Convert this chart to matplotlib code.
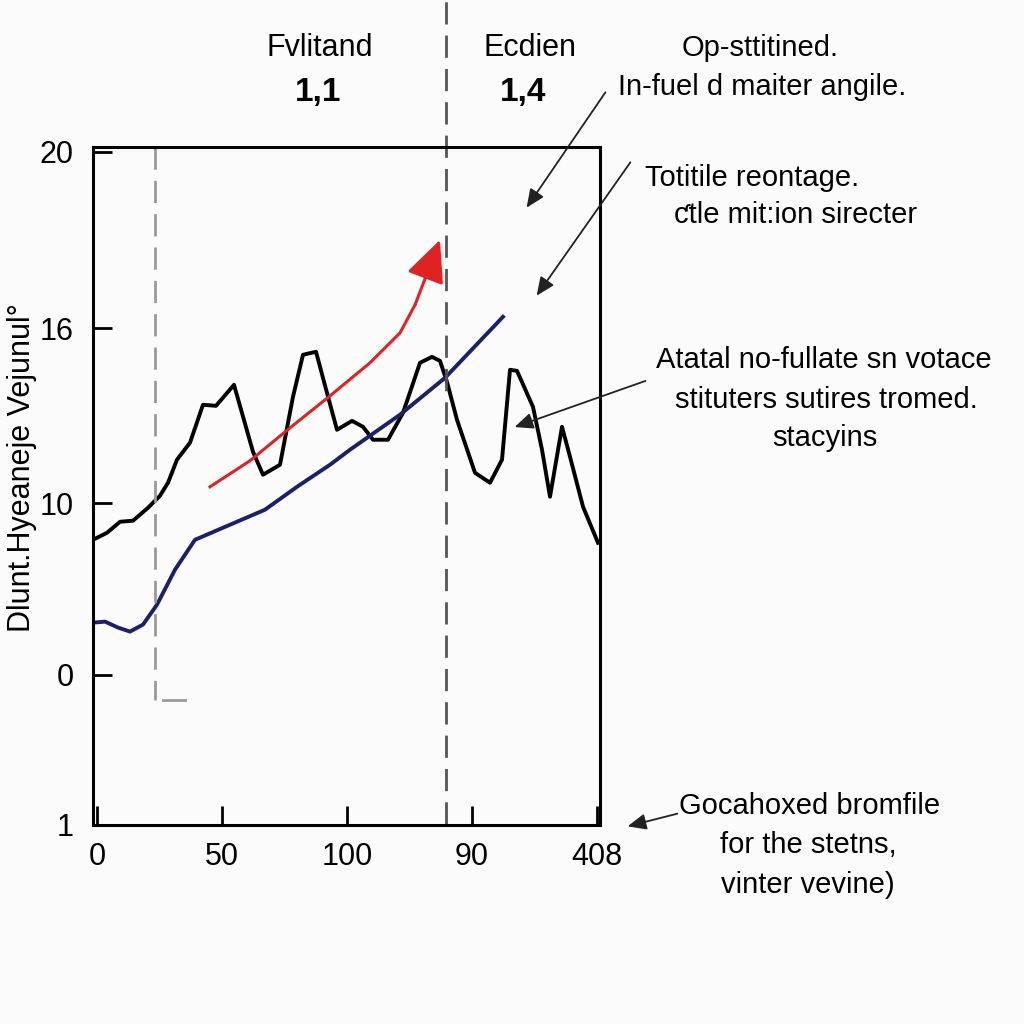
import matplotlib
matplotlib.use('Agg')
import matplotlib.pyplot as plt

plt.rcParams['font.family'] = ['Liberation Sans', 'DejaVu Sans']

# black series
black_x = [-1.6, 4.0, 9.2, 14.4, 20.4, 25.2, 28.4, 32.0, 37.2, 42.4, 47.6, 54.8, 62.4, 66.4,
           73.2, 78.4, 82.4, 87.6, 92.0, 96.0, 102.0, 106.4, 110.4, 116.4, 122.4, 129.2, 134.0,
           137.2, 140.0, 144.0, 151.2, 157.2, 162.0, 165.2, 168.0, 174.4, 178.0, 181.2, 186.0,
           189.2, 194.4, 200.4]
black_y = [7.71, 8.11, 8.74, 8.80, 9.54, 10.23, 10.97, 12.29, 13.26, 15.43, 15.37, 16.57, 12.74,
           11.43, 12.0, 15.89, 18.29, 18.46, 16.11, 14.0, 14.51, 14.17, 13.43, 13.43, 14.97, 17.83,
           18.17, 17.94, 16.74, 14.57, 11.54, 10.97, 12.29, 17.43, 17.37, 15.31, 12.86, 10.17,
           14.17, 12.46, 9.6, 7.54]

# navy series
blue_x = [-1.6, 3.2, 8.4, 13.2, 18.4, 24.0, 31.2, 39.2, 53.2, 67.2, 80.0, 93.2, 101.2, 121.2,
          139.2, 162.4]
blue_y = [2.97, 3.03, 2.69, 2.46, 2.86, 4.0, 6.0, 7.71, 8.57, 9.43, 10.74, 12.0, 12.86, 14.86,
          16.97, 20.46]

# red trend arrow
red_x = [45.2, 61.2, 77.2, 93.2, 109.2, 121.2, 127.2]
red_y = [10.74, 12.23, 14.11, 15.94, 17.83, 19.54, 21.14]
red_tip = (137.2, 24.86)

xticks = [0, 50, 100, 150, 200]
xtick_labels = ['0', '50', '100', '90', '408']
yticks = [-8.6, 0, 9.8, 19.8, 29.9]
ytick_labels = ['1', '0', '10', '16', '20']

fig = plt.figure(figsize=(10.24, 10.24), dpi=100, facecolor='#fbfbfb')
ax = fig.add_axes([93 / 1024, 199 / 1024, 507 / 1024, 678 / 1024])
ax.set_facecolor('#fbfbfb')
ax.set_xlim(-1.6, 201.2)
ax.set_ylim(-8.57, 30.17)

ax.plot(black_x, black_y, color='black', lw=2.8, solid_joinstyle='round')
ax.plot(blue_x, blue_y, color='#1c1f6b', lw=2.8, solid_joinstyle='round')
ax.plot(red_x, red_y, color='#e02222', lw=2.2, solid_joinstyle='round')
ax.annotate('', xy=red_tip, xytext=(red_x[-1], red_y[-1]),
            arrowprops=dict(arrowstyle='-|>,head_length=1.3,head_width=0.6',
                            color='#e02222', lw=2.2, mutation_scale=20, shrinkA=0, shrinkB=0))

# dashed reference lines
ax.plot([23.2, 23.2], [30.17, -1.43], color='#9a9a9a', lw=2, dashes=(8, 4))
ax.plot([26.4, 35.2], [-1.43, -1.43], color='#9a9a9a', lw=2)
ax.plot([139.6, 139.6], [-8.57, 38.57], color='#555555', lw=2, dashes=(8, 4), clip_on=False)

ax.set_xticks(xticks)
ax.set_xticklabels(xtick_labels)
ax.set_yticks(yticks)
ax.set_yticklabels(ytick_labels)
ax.tick_params(axis='both', direction='in', length=14, width=2, labelsize=22, colors='black')
ax.tick_params(axis='x', pad=12)
ax.tick_params(axis='y', pad=14)
for s in ax.spines.values():
    s.set_linewidth(2.2)

def T(px, py, s, **kw):
    fig.text(px / 1024, 1 - py / 1024, s, ha='center', va='center', **kw)

T(22, 468, 'Dlunt.Hyeaneje Vejunul\u00b0', rotation=90, fontsize=22)

T(320, 48, 'Fvlitand', fontsize=22)
T(318, 92, '1,1', fontsize=24, fontweight='bold')
T(530, 48, 'Ecdien', fontsize=22)
T(523, 92, '1,4', fontsize=24, fontweight='bold')

T(760, 48, 'Op-sttitined.', fontsize=21)
T(762, 87, 'In-fuel d maiter angile.', fontsize=21)
T(752, 178, 'Totitile reontage.', fontsize=21)
T(796, 215, '\u0188tle mit:ion sirecter', fontsize=21)
T(824, 360, 'Atatal no-fullate sn votace', fontsize=21)
T(826, 400, 'stituters sutires tromed.', fontsize=21)
T(825, 438, 'stacyins', fontsize=21)
T(810, 806, 'Gocahoxed bromfile', fontsize=21)
T(808, 845, 'for the stetns,', fontsize=21)
T(808, 885, 'vinter vevine)', fontsize=21)

def arrow(x0, y0, x1, y1):
    fig.add_artist(matplotlib.patches.FancyArrowPatch(
        (x0 / 1024, 1 - y0 / 1024), (x1 / 1024, 1 - y1 / 1024),
        transform=fig.transFigure, arrowstyle='-|>,head_length=0.8,head_width=0.35',
        mutation_scale=14, color='#222222', lw=1.3))

arrow(607, 90, 525, 210)
arrow(632, 160, 535, 298)
arrow(648, 380, 512, 428)
arrow(680, 813, 625, 827)

fig.savefig('out.png', dpi=100, facecolor=fig.get_facecolor())
